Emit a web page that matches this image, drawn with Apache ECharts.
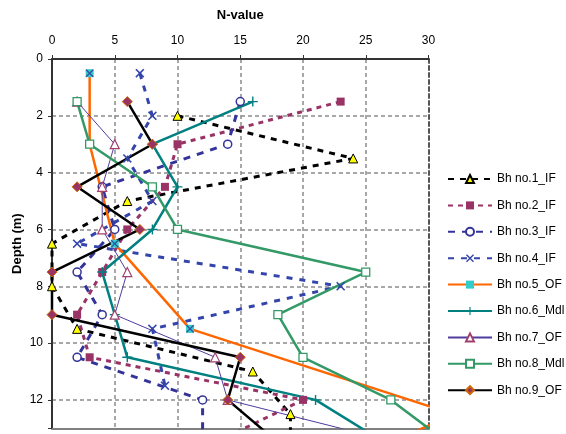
<!DOCTYPE html>
<html>
<head>
<meta charset="utf-8">
<script src="https://cdn.jsdelivr.net/npm/echarts@6/dist/echarts.min.js"></script>
<style>
html,body{margin:0;padding:0;background:#fff;}
#c{width:566px;height:434px;}
</style>
</head>
<body>
<div id="c"></div>
<script>
// Data (N-value vs depth)
const names = ['Bh no.1_IF','Bh no.2_IF','Bh no.3_IF','Bh no.4_IF','Bh no.5_OF','Bh no.6_Mdl','Bh no.7_OF','Bh no.8_Mdl','Bh no.9_OF'];
const n1 = [10, 24, 6, 0, 0, 2, 16, 19, 19];
const d1 = [2, 3.5, 5, 6.5, 8, 9.5, 11, 12.5, 14];
const n2 = [23, 10, 9, 6, 4, 2, 3, 20, 13];
const d2 = [1.5, 3, 4.5, 6, 7.5, 9, 10.5, 12, 13.5];
const n3 = [15, 14, 4, 5, 2, 4, 2, 12, 12];
const d3 = [1.5, 3, 4.5, 6, 7.5, 9, 10.5, 12, 13.5];
const n4 = [7, 8, 6, 8, 2, 23, 8, 9];
const d4 = [0.5, 2, 3.5, 5, 6.5, 8, 9.5, 11.5];
const n5 = [3, 3, 5, 11, 32, 27];
const d5 = [0.5, 3, 6.5, 9.5, 12.5, 13.5];
const n6 = [16, 8, 10, 8, 4, 5, 6, 21, 26.5];
const d6 = [1.5, 3, 4.5, 6, 7.5, 9, 10.5, 12, 13.5];
const n7 = [2, 5, 4, 4, 6, 5, 13, 14, 27.5];
const d7 = [1.5, 3, 4.5, 6, 7.5, 9, 10.5, 12, 13.5];
const n8 = [2, 3, 8, 10, 25, 18, 20, 27, 31.5];
const d8 = [1.5, 3, 4.5, 6, 7.5, 9, 10.5, 12, 13.5];
const n9 = [6, 8, 2, 7, 0, 0, 15, 14, 18];
const d9 = [1.5, 3, 4.5, 6, 7.5, 9, 10.5, 12, 13.5];
const xTicks = [0, 5, 10, 15, 20, 25, 30];
const yTicks = [0, 2, 4, 6, 8, 10, 12];

function zip(n, d){ return n.map((v,i)=>[v, d[i]]); }

const FONT = 'Liberation Sans, Arial, sans-serif';
const plusPath = 'path://M4.3,0H5.7V4.3H10V5.7H5.7V10H4.3V5.7H0V4.3H4.3Z';
const xPath = 'path://M0,1.2L1.2,0L5,3.8L8.8,0L10,1.2L6.2,5L10,8.8L8.8,10L5,6.2L1.2,10L0,8.8L3.8,5Z';

function mk(name, data, line, sym){
  return Object.assign({
    name: name, type: 'line', data: data, clip: true,
    showAllSymbol: true, animation: false,
    lineStyle: line,
    emphasis: {disabled: true}
  }, sym);
}

const series = [
  mk(names[0], zip(n1,d1), {color:'#000', width:3, type:[6,6]},
     {symbol:'triangle', symbolSize:9, itemStyle:{color:'#FFFF00', borderColor:'#000', borderWidth:1}}),
  mk(names[1], zip(n2,d2), {color:'#993366', width:3, type:[5,5]},
     {symbol:'rect', symbolSize:8, itemStyle:{color:'#993366', borderColor:'#993366', borderWidth:0}}),
  mk(names[2], zip(n3,d3), {color:'#333399', width:3, type:[7,7]},
     {symbol:'circle', symbolSize:8, itemStyle:{color:'#fff', borderColor:'#333399', borderWidth:1.5}}),
  mk(names[3], zip(n4,d4), {color:'#3344AA', width:3, type:[6,7]},
     {symbol:xPath, symbolSize:9, itemStyle:{color:'#3344AA', borderWidth:0}}),
  mk(names[4], zip(n5,d5), {color:'#FF6600', width:2.5, type:'solid'},
     {symbol:'rect', symbolSize:8, itemStyle:{color:'#33CCCC', borderColor:'#33CCCC', borderWidth:0}}),
  {
    name: 'bh5marks', type: 'scatter', data: zip(n5,d5), clip: true,
    symbol: xPath, symbolSize: 8, itemStyle: {color: '#333399'},
    emphasis: {disabled: true}, z: 3
  },
  mk(names[5], zip(n6,d6), {color:'#008080', width:2.5, type:'solid'},
     {symbol:plusPath, symbolSize:10, itemStyle:{color:'#008080', borderWidth:0}}),
  mk(names[6], zip(n7,d7), {color:'#4E3D9E', width:1, type:'solid'},
     {symbol:'triangle', symbolSize:9, itemStyle:{color:'#fff', borderColor:'#A0406E', borderWidth:1.2}}),
  mk(names[7], zip(n8,d8), {color:'#339966', width:2.5, type:'solid'},
     {symbol:'rect', symbolSize:8, itemStyle:{color:'#fff', borderColor:'#339966', borderWidth:1.3}}),
  mk(names[8], zip(n9,d9), {color:'#000', width:2.5, type:'solid'},
     {symbol:'diamond', symbolSize:10, itemStyle:{color:'#993366', borderColor:'#CC6600', borderWidth:1}})
];

const chart = echarts.init(document.getElementById('c'), null, {renderer:'canvas'});
chart.setOption({
  backgroundColor: '#fff',
  animation: false,
  textStyle: {fontFamily: FONT},
  grid: {left: 52, top: 59, right: 137.5, bottom: 5.7, containLabel: false, outerBoundsMode: 'none'},
  legend: {
    orient: 'vertical', left: 447, top: 172, padding: 0,
    data: names,
    itemWidth: 44, itemHeight: 10, itemGap: 12.4,
    textStyle: {fontFamily: FONT, fontSize: 12, color: '#000', lineHeight: 14},
    selectedMode: false
  },
  xAxis: [{
    type: 'value', position: 'top', min: 0, max: 30, interval: 5,
    name: 'N-value', nameLocation: 'middle', nameGap: 37, nameMoveOverlap: false,
    nameTextStyle: {fontFamily: FONT, fontSize: 13, fontWeight: 'bold', color: '#000'},
    axisLine: {show: true, lineStyle: {color: '#333', width: 2}},
    axisTick: {show: true, length: 4, lineStyle: {color: '#333', width: 1}},
    axisLabel: {fontFamily: FONT, fontSize: 12, color: '#000', margin: 12,
      formatter: v => xTicks.indexOf(v) >= 0 ? String(v) : ''},
    splitLine: {show: true, lineStyle: {color: '#8c8c8c', width: 1.5, type: [4,3]}}
  },{
    type: 'value', position: 'bottom', min: 0, max: 30, interval: 5,
    axisLine: {show: true, onZero: false, lineStyle: {color: '#808080', width: 2}},
    axisTick: {show: false}, axisLabel: {show: false}, splitLine: {show: false}
  }],
  yAxis: [{
    type: 'value', inverse: true, min: 0, max: 13, interval: 2,
    name: 'Depth (m)', nameLocation: 'middle', nameGap: 28, nameRotate: 90, nameMoveOverlap: false,
    nameTextStyle: {fontFamily: FONT, fontSize: 13, fontWeight: 'bold', color: '#000'},
    axisLine: {show: true, lineStyle: {color: '#333', width: 2}},
    axisTick: {show: true, length: 4, lineStyle: {color: '#333', width: 1}},
    axisLabel: {fontFamily: FONT, fontSize: 12, color: '#000', margin: 9,
      formatter: v => yTicks.indexOf(v) >= 0 ? String(v) : ''},
    splitLine: {show: true, lineStyle: {color: '#8c8c8c', width: 1.5, type: [4,3]}}
  },{
    type: 'value', position: 'right', inverse: true, min: 0, max: 13, interval: 2,
    axisLine: {show: true, onZero: false, lineStyle: {color: '#555', width: 2, type: [4,3]}},
    axisTick: {show: false}, axisLabel: {show: false}, splitLine: {show: false}
  }],
  series: series
});
</script>
</body>
</html>
